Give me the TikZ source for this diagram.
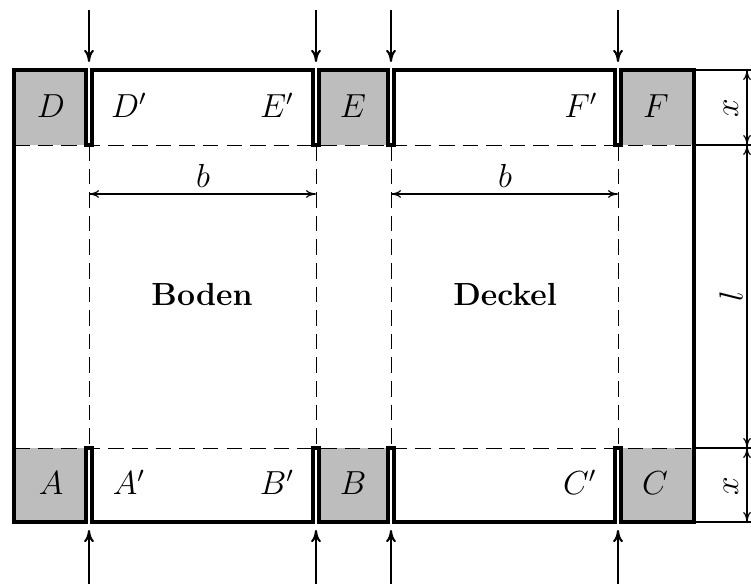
\documentclass[tikz,border=0pt]{standalone}
\usepackage{amsmath}
\usetikzlibrary{arrows.meta}
\begin{document}
\begin{tikzpicture}[x=0.36pt,y=-0.36pt,
  every node/.style={font=\large},
  outline/.style={line width=1.25pt,line join=miter},
  cutline/.style={line width=0.35pt,dash pattern=on 5.6pt off 2.9pt},
  thinline/.style={line width=0.42pt},
  press/.style={line width=0.75pt,-{Computer Modern Rightarrow[length=4.4pt,width=3.6pt]}},
  dim/.style={line width=0.42pt,{Computer Modern Rightarrow[length=3.6pt,width=2.8pt]}-{Computer Modern Rightarrow[length=3.6pt,width=2.8pt]}},
  lab/.style={inner sep=0pt,anchor=base}]
\useasboundingbox (0,0) rectangle (751,584);
% corner flaps
\fill[black!26] (14,70) rectangle (86,145);
\fill[black!26] (319,70) rectangle (388,145);
\fill[black!26] (621,70) rectangle (694,145);
\fill[black!26] (14,448) rectangle (86,522);
\fill[black!26] (319,448) rectangle (388,522);
\fill[black!26] (621,448) rectangle (694,522);
% fold lines
\coordinate (L1) at (14,145); \coordinate (R1) at (694,145);
\coordinate (L2) at (14,448); \coordinate (R2) at (694,448);
\draw[cutline] (L1) -- (R1);
\draw[cutline] (L2) -- (R2);
\foreach \x in {89,316,391,618}{
  \draw[cutline] (\x,145) -- (\x,448);
}
% outline
\draw[outline] (14,70) -- (86,70) -- (86,145) -- (92,145) -- (92,70)
  -- (313,70) -- (313,145) -- (319,145) -- (319,70)
  -- (388,70) -- (388,145) -- (394,145) -- (394,70)
  -- (615,70) -- (615,145) -- (621,145) -- (621,70)
  -- (694,70) -- (694,522)
  -- (621,522) -- (621,448) -- (615,448) -- (615,522)
  -- (394,522) -- (394,448) -- (388,448) -- (388,522)
  -- (319,522) -- (319,448) -- (313,448) -- (313,522)
  -- (92,522) -- (92,448) -- (86,448) -- (86,522)
  -- (14,522) -- cycle;
% extension lines
\coordinate (E0) at (694,70); \coordinate (F0) at (751,70);
\coordinate (E3) at (694,522); \coordinate (F3) at (751,522);
\coordinate (F1) at (751,145); \coordinate (F2) at (751,448);
\draw[thinline] (E0) -- (F0);
\draw[thinline] (R1) -- (F1);
\draw[thinline] (R2) -- (F2);
\draw[thinline] (E3) -- (F3);
% dimensions right
\coordinate (D0) at (747,70); \coordinate (D1) at (747,145);
\coordinate (D2) at (747,448); \coordinate (D3) at (747,522);
\draw[dim] (D0) -- (D1);
\draw[dim] (D1) -- (D2);
\draw[dim] (D2) -- (D3);
\node[inner sep=0pt,rotate=90] (dx1) at (731,108) {$x$};
\node[inner sep=0pt,rotate=90] (dl) at (731,296) {$l$};
\node[inner sep=0pt,rotate=90] (dx2) at (731,486) {$x$};
% dimensions b
\coordinate (B1) at (89,194); \coordinate (B2) at (316,194);
\coordinate (B3) at (391,194); \coordinate (B4) at (618,194);
\draw[dim] (B1) -- (B2);
\draw[dim] (B3) -- (B4);
\node[lab] (b1) at (203,188) {$b$};
\node[lab] (b2) at (505,188) {$b$};
% press arrows
\foreach \n/\x in {a/89,b/316,c/391,d/618}{
  \coordinate (T\n) at (\x,10); \coordinate (TE\n) at (\x,62);
  \coordinate (U\n) at (\x,584); \coordinate (UE\n) at (\x,530);
  \draw[press] (T\n) -- (TE\n);
  \draw[press] (U\n) -- (UE\n);
}
% labels
\node[lab] (nD) at (51,118) {$D$};
\node[lab] (nDp) at (129,118) {$D'$};
\node[lab] (nEp) at (277,118) {$E'$};
\node[lab] (nE) at (353,118) {$E$};
\node[lab] (nFp) at (581,118) {$F'$};
\node[lab] (nF) at (656,118) {$F$};
\node[lab] (nA) at (51,495) {$A$};
\node[lab] (nAp) at (129,495) {$A'$};
\node[lab] (nBp) at (277,495) {$B'$};
\node[lab] (nB) at (353,495) {$B$};
\node[lab] (nCp) at (580,495) {$C'$};
\node[lab] (nC) at (655,495) {$C$};
\node[lab,scale=0.96] (boden) at (202,306) {\textbf{Boden}};
\node[lab,scale=0.96] (deckel) at (505,306) {\textbf{Deckel}};
\end{tikzpicture}
\end{document}
